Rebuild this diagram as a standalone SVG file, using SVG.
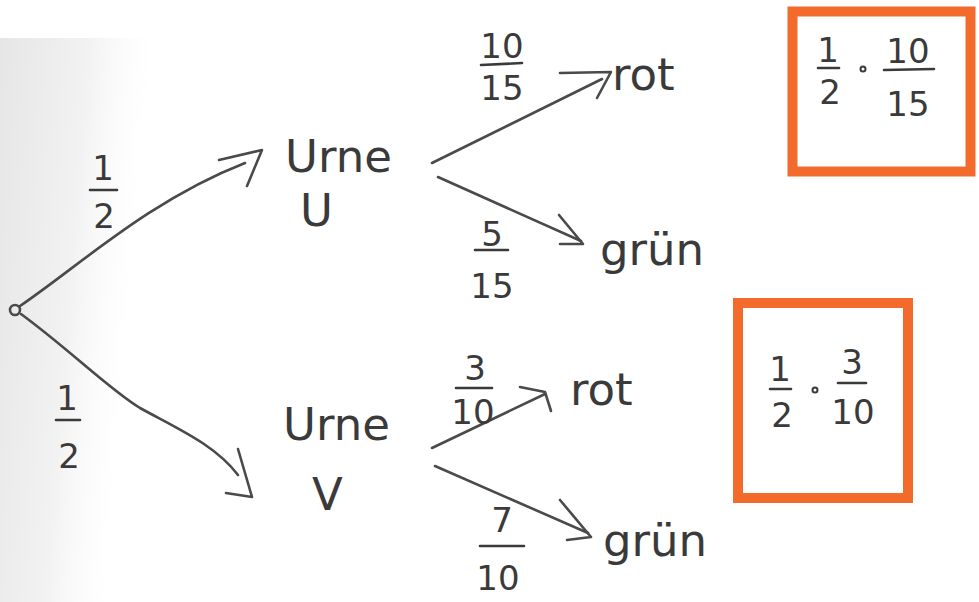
<svg xmlns="http://www.w3.org/2000/svg" width="979" height="602" viewBox="0 0 979 602">
  <defs>
    <linearGradient id="shade" x1="0" y1="0" x2="1" y2="0.3">
      <stop offset="0" stop-color="#e6e6e6"/>
      <stop offset="0.55" stop-color="#f2f2f2"/>
      <stop offset="1" stop-color="#ffffff" stop-opacity="0"/>
    </linearGradient>
    <style>
      .pen { fill: none; stroke: #4a4a4a; stroke-width: 2.6; stroke-linecap: round; stroke-linejoin: round; }
      .lbl { font-family: "DejaVu Sans", "Liberation Sans", sans-serif; fill: #3a3a3a; }
      .node { font-size: 45px; }
      .frac { font-size: 34px; text-anchor: middle; }
      .bar { stroke: #3a3a3a; stroke-width: 2.6; stroke-linecap: round; }
      .box { fill: none; stroke: #f26a2c; stroke-width: 10; }
    </style>
  </defs>
  <rect width="979" height="602" fill="#ffffff"/>
  <rect x="0" y="38" width="150" height="564" fill="url(#shade)"/>

  <g id="connectors">
    <circle cx="15" cy="310" r="5" class="pen"/>
    <path class="pen" d="M20,306 C80,265 150,200 245,163"/>
    <path class="pen" d="M219,160 L262,150 L247,186"/>
    <path class="pen" d="M21,314 C70,350 110,390 140,408 C180,430 215,445 238,475"/>
    <path class="pen" d="M238,449 L252,497 L226,493"/>
    <path class="pen" d="M432,163 L602,79"/>
    <path class="pen" d="M560,73 L611,72 L597,98"/>
    <path class="pen" d="M438,177 L581,241"/>
    <path class="pen" d="M559,215 L583,244 L560,244"/>
    <path class="pen" d="M432,448 L545,394"/>
    <path class="pen" d="M520,387 L545,392 L551,411"/>
    <path class="pen" d="M435,466 L588,533"/>
    <path class="pen" d="M560,500 L591,537 L567,540"/>
  </g>

  <g id="urne-u">
    <text class="lbl node" x="285" y="172">Urne</text>
    <text class="lbl node" x="300" y="226">U</text>
  </g>
  <g id="urne-v">
    <text class="lbl node" x="283" y="440">Urne</text>
    <text class="lbl node" x="312" y="510">V</text>
  </g>
  <g id="rot-u">
    <text class="lbl node" x="612" y="90">rot</text>
  </g>
  <g id="gruen-u">
    <text class="lbl node" x="600" y="265">grün</text>
  </g>
  <g id="rot-v">
    <text class="lbl node" x="570" y="405">rot</text>
  </g>
  <g id="gruen-v">
    <text class="lbl node" x="603" y="556">grün</text>
  </g>

  <g id="labels">
    <text class="lbl frac" x="103" y="180">1</text>
    <line class="bar" x1="90" y1="190" x2="117" y2="190"/>
    <text class="lbl frac" x="104" y="228">2</text>

    <text class="lbl frac" x="67" y="410">1</text>
    <line class="bar" x1="56" y1="420" x2="80" y2="420"/>
    <text class="lbl frac" x="69" y="468">2</text>

    <text class="lbl frac" x="502" y="58">10</text>
    <line class="bar" x1="481" y1="65" x2="522" y2="63"/>
    <text class="lbl frac" x="502" y="100">15</text>

    <text class="lbl frac" x="492" y="246">5</text>
    <line class="bar" x1="475" y1="250" x2="508" y2="250"/>
    <text class="lbl frac" x="492" y="298">15</text>

    <text class="lbl frac" x="475" y="380">3</text>
    <line class="bar" x1="456" y1="388" x2="492" y2="388"/>
    <text class="lbl frac" x="473" y="424">10</text>

    <text class="lbl frac" x="502" y="532">7</text>
    <line class="bar" x1="480" y1="546" x2="524" y2="546"/>
    <text class="lbl frac" x="498" y="590">10</text>
  </g>

  <g id="result-1">
    <rect class="box" x="792.5" y="11.5" width="178" height="160"/>
    <text class="lbl frac" x="828" y="62">1</text>
    <line class="bar" x1="818" y1="68" x2="839" y2="68"/>
    <text class="lbl frac" x="830" y="104">2</text>
    <circle cx="863" cy="69" r="2.5" fill="none" stroke="#3a3a3a" stroke-width="2"/>
    <text class="lbl frac" x="908" y="63">10</text>
    <line class="bar" x1="884" y1="70" x2="934" y2="69"/>
    <text class="lbl frac" x="908" y="116">15</text>
  </g>

  <g id="result-2">
    <rect class="box" x="738" y="303" width="170" height="195"/>
    <text class="lbl frac" x="780" y="381">1</text>
    <line class="bar" x1="770" y1="389" x2="791" y2="389"/>
    <text class="lbl frac" x="782" y="427">2</text>
    <circle cx="815" cy="390" r="2.5" fill="none" stroke="#3a3a3a" stroke-width="2"/>
    <text class="lbl frac" x="852" y="374">3</text>
    <line class="bar" x1="838" y1="383" x2="866" y2="383"/>
    <text class="lbl frac" x="853" y="424">10</text>
  </g>
</svg>
